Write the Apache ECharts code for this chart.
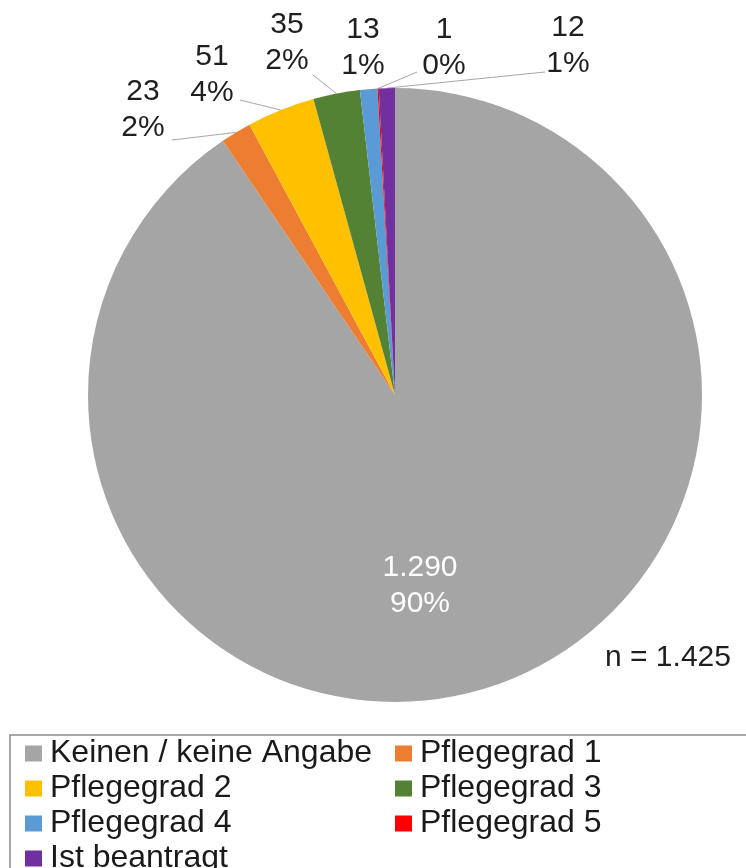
<!DOCTYPE html>
<html>
<head>
<meta charset="utf-8">
<script src="https://cdn.jsdelivr.net/npm/echarts@6/dist/echarts.min.js"></script>
<style>
  html, body { margin: 0; padding: 0; background: #fff; }
  #chart { width: 746px; height: 868px; }
</style>
</head>
<body>
<div id="chart"></div>
<script>
var categories = ['Keinen / keine Angabe', 'Pflegegrad 1', 'Pflegegrad 2', 'Pflegegrad 3', 'Pflegegrad 4', 'Pflegegrad 5', 'Ist beantragt'];
var counts = [1290, 23, 51, 35, 13, 1, 12];
var colors = ['#A5A5A5', '#ED7D31', '#FFC000', '#548235', '#5B9BD5', '#FF0000', '#7030A0'];
var totalText = 'n = 1.425';

// where each data label sits (centre) and where its leader line ends, null = no line
var labelSpots = [
  [420, 586, null],
  [143, 110, [172, 140]],
  [212, 75, [240, 100]],
  [287, 43, [313, 75]],
  [363, 48, null],
  [444, 48, [417, 72]],
  [568, 46, [545, 72]]
];

var font = '"Liberation Sans", Arial, sans-serif';

// german thousands separator
function de(n) {
  return String(n).replace(/\B(?=(\d{3})+(?!\d))/g, '.');
}

var chart = echarts.init(document.getElementById('chart'));

var pieData = categories.map(function (name, i) {
  var item = { name: name, value: counts[i], itemStyle: { color: colors[i] } };
  if (i === 0) {
    item.label = { position: 'inside', color: '#ffffff' };
  }
  if (labelSpots[i][2] === null && i !== 0) {
    item.labelLine = { show: false };
  }
  return item;
});

var legendBase = {
  orient: 'vertical',
  top: 736,
  height: 200,
  padding: 0,
  itemGap: 0,
  itemWidth: 17,
  itemHeight: 16,
  icon: 'rect',
  textStyle: { fontFamily: font, fontSize: 32, color: '#1a1a1a', lineHeight: 35, padding: [0, 0, 0, 3] }
};

chart.setOption({
  animation: false,
  color: colors,
  legend: [
    Object.assign({}, legendBase, { left: 25, data: categories.filter(function (c, i) { return i % 2 === 0; }) }),
    Object.assign({}, legendBase, { left: 395, data: categories.filter(function (c, i) { return i % 2 === 1; }) })
  ],
  graphic: [
    {
      type: 'rect',
      shape: { x: 10, y: 735, width: 780, height: 200 },
      style: { fill: 'none', stroke: '#8c8c8c', lineWidth: 1.5 },
      silent: true
    },
    {
      type: 'text',
      x: 605,
      y: 658,
      style: { text: totalText, font: '30px ' + font, fill: '#1f1f1f', textVerticalAlign: 'middle' },
      silent: true
    }
  ],
  series: [{
    type: 'pie',
    center: [395, 395],
    radius: 307,
    startAngle: 90,
    clockwise: true,
    percentPrecision: 0,
    avoidLabelOverlap: false,
    emphasis: { scale: false },
    itemStyle: { borderWidth: 0 },
    label: {
      show: true,
      position: 'outside',
      fontFamily: font,
      fontSize: 30,
      lineHeight: 36,
      color: '#1f1f1f',
      align: 'center',
      formatter: function (p) {
        return de(p.value) + '\n' + p.percent + '%';
      }
    },
    labelLine: {
      show: true,
      lineStyle: { color: '#A6A6A6', width: 1 }
    },
    labelLayout: function (p) {
      var spot = labelSpots[p.dataIndex];
      var res = { x: spot[0], y: spot[1], align: 'center', verticalAlign: 'middle' };
      if (spot[2] && p.labelLinePoints) {
        res.labelLinePoints = [p.labelLinePoints[0], spot[2], spot[2]];
      }
      return res;
    },
    data: pieData
  }]
});
</script>
</body>
</html>
